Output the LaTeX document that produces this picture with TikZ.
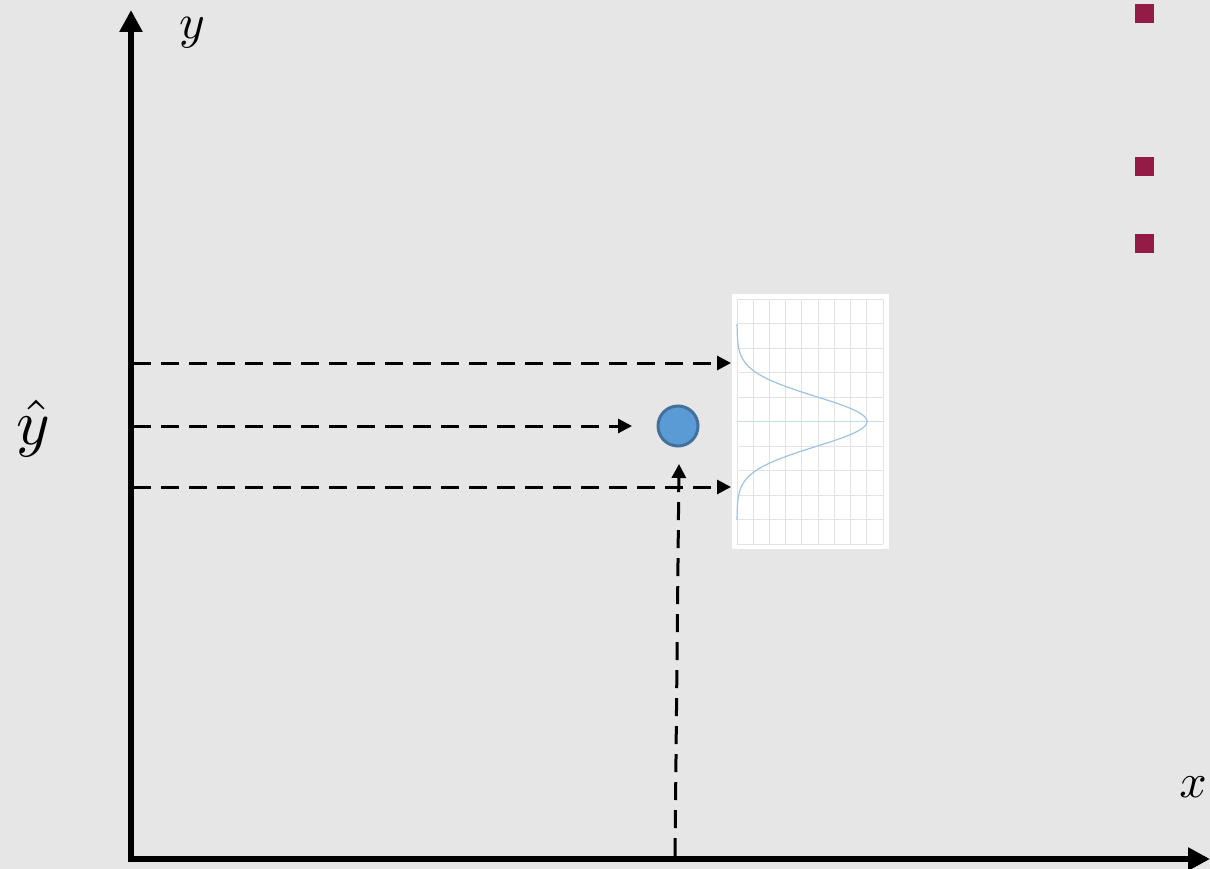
\documentclass[tikz,border=0pt]{standalone}
\usepackage{graphicx}
\usetikzlibrary{arrows.meta}
\definecolor{bg}{HTML}{E6E6E6}
\definecolor{bullet}{HTML}{951B47}
\definecolor{dotfill}{HTML}{5B9BD5}
\definecolor{dotline}{HTML}{41719C}
\definecolor{gridc}{HTML}{E3E3E3}
\definecolor{curvec}{HTML}{9DC3E6}
\begin{document}
\begin{tikzpicture}[x=1pt,y=-1pt,
  axis/.style={line width=6pt,-{Triangle[length=22pt,width=22pt]}},
  guide/.style={line width=3pt,dash pattern=on 18pt off 10pt,-{Triangle[length=14pt,width=14pt]}},
  lbl/.style={inner sep=0pt},
  sq/.style={fill=bullet,draw=none,minimum size=19pt,inner sep=0pt}]
\fill[bg] (0,0) rectangle (1210,869);
\useasboundingbox (0,0) rectangle (1210,869);
% axes
\coordinate (O) at (131,859);
\coordinate (ytop) at (131,10);
\coordinate (xend) at (1210,859);
\draw[axis] (131,862) -- (ytop);
\draw[axis] (128,859) -- (xend);
\node[lbl] (ylab) at (192,33) {\scalebox{4.9}{$y$}};
\node[lbl] (xlab) at (1193,787) {\scalebox{4.8}{$x$}};
\node[lbl] (yhat) at (33,428) {\scalebox{6.4}{$\hat{y}$}};
% bullets
\node[sq] (b1) at (1144.5,13.5) {};
\node[sq] (b2) at (1144.5,166.5) {};
\node[sq] (b3) at (1144.5,243.5) {};
% gaussian box
\fill[white] (732,294) rectangle (889,549);
\begin{scope}
\foreach \i in {0,...,9} \draw[gridc,line width=0.8pt] ({737+\i*16.22},299) -- ({737+\i*16.22},544);
\foreach \j in {0,...,10} \draw[gridc,line width=0.8pt] (737,{299+\j*24.5}) -- (883,{299+\j*24.5});
\draw[curvec!60,line width=1pt] (737,421.5) -- (883,421.5);
\draw[curvec,line width=1.2pt,domain=324:520,samples=120,smooth] plot ({737+130*exp(-((\x-421.5)^2)/(2*25^2))},\x);
\end{scope}
\node[inner sep=0pt,minimum width=157pt,minimum height=255pt] (gbox) at (810.5,421.5) {};
% point
\node[circle,fill=dotfill,draw=dotline,line width=3pt,minimum size=40pt,inner sep=0pt] (pt) at (678,426) {};
% guides
\coordinate (g1s) at (133,363);
\coordinate (g2s) at (133,426);
\coordinate (g3s) at (133,487);
\coordinate (g1e) at (731,363);
\coordinate (g3e) at (731,487);
\coordinate (vb) at (675,856);
\coordinate (vt) at (679,464);
\draw[guide] (g1s) -- (g1e);
\draw[guide] (g2s) -- (632,426);
\draw[guide] (g3s) -- (g3e);
\draw[guide] (vb) -- (vt);
\end{tikzpicture}
\end{document}
